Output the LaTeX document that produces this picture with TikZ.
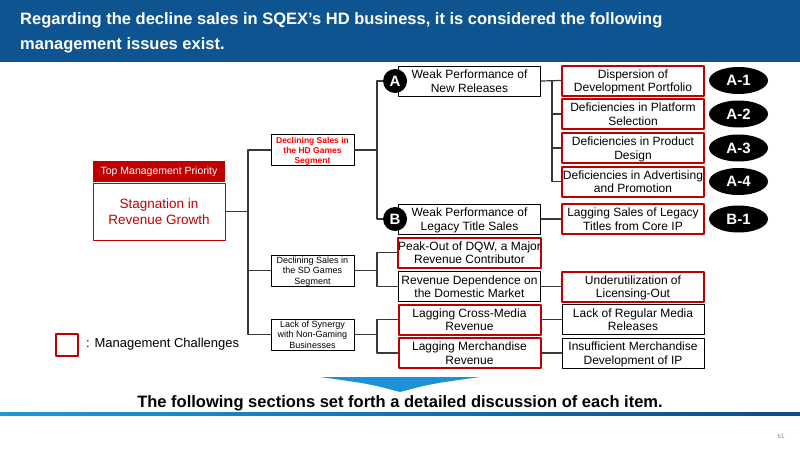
\documentclass[tikz,border=0pt]{standalone}
\usepackage{fontspec}
\setmainfont{Liberation Sans}
\usetikzlibrary{shapes.geometric}
\definecolor{bandblue}{HTML}{0E5490}
\definecolor{darkred}{HTML}{C00000}
\definecolor{hdred}{HTML}{FF0000}
\definecolor{arrowblue}{HTML}{1E90D8}
\definecolor{lineblue}{HTML}{1E9AD6}
\definecolor{linedark}{HTML}{0D4A8A}
\definecolor{conn}{HTML}{383838}
\begin{document}
\begin{tikzpicture}[x=1pt,y=-1pt,line cap=round,line join=round,
  box/.style={draw=black,line width=0.9pt,minimum width=142,minimum height=30,inner sep=0pt,text height=23.5pt,text depth=1.5pt,align=center,font=\fontsize{12}{13.5}\selectfont},
  redbox/.style={box,draw=darkred,line width=2pt},
  small/.style={draw=black,line width=0.9pt,minimum width=83,minimum height=31,inner sep=0pt,text height=28.5pt,text depth=1pt,align=center,font=\fontsize{9}{10.3}\selectfont},
  circ/.style={circle,fill=black,text=white,minimum size=24,inner sep=0pt,font=\fontsize{15}{15}\selectfont\bfseries},
  tag/.style={ellipse,fill=black,text=white,minimum width=59,minimum height=27,inner sep=0pt,font=\fontsize{15}{15}\selectfont\bfseries},
  link/.style={draw=conn,line width=1.2pt}]
  \useasboundingbox (0,0) rectangle (800,450);
  % header band
  \fill[bandblue] (0,0) rectangle (800,62);
  \node[anchor=north west,align=left,inner sep=0pt,text=white,font=\bfseries\fontsize{16.5}{25}\selectfont] (title) at (20,12.5)
    {Regarding the decline sales in SQEX's HD business, it is considered the following\\management issues exist.};
  % top priority
  \node[draw=darkred,line width=0.9pt,minimum width=132,minimum height=57,inner sep=0pt,align=center,text=darkred,font=\fontsize{13.5}{16}\selectfont] (top) at (159,211.5) {Stagnation in\\Revenue Growth};
  \node[anchor=south,fill=darkred,minimum width=132,minimum height=21,inner sep=0pt,text=white,font=\fontsize{10.5}{12}\selectfont] (toph) at (top.north) {Top Management Priority};
  % segments
  \node[small,text=hdred,font=\fontsize{8.5}{10.3}\selectfont\bfseries] (hd) at (312.5,150) {Declining Sales in\\the HD Games\\Segment};
  \node[small] (sd) at (312.5,270.5) {Declining Sales in\\the SD Games\\Segment};
  \node[small] (syn) at (312.5,334.5) {Lack of Synergy\\with Non-Gaming\\Businesses};
  % issues
  \node[box] (newrel) at (469.5,81) {Weak Performance of\\New Releases};
  \node[box] (legacy) at (469.5,219) {Weak Performance of\\Legacy Title Sales};
  \node[redbox] (peak) at (469.5,252.5) {Peak-Out of DQW, a Major\\Revenue Contributor};
  \node[box] (domestic) at (469.5,286.5) {Revenue Dependence on\\the Domestic Market};
  \node[redbox] (cross) at (469.5,319.5) {Lagging Cross-Media\\Revenue};
  \node[redbox] (merch) at (469.5,353) {Lagging Merchandise\\Revenue};
  % causes
  \node[redbox] (a1) at (633,80.5) {Dispersion of\\Development Portfolio};
  \node[redbox] (a2) at (633,114) {Deficiencies in Platform\\Selection};
  \node[redbox] (a3) at (633,148) {Deficiencies in Product\\Design};
  \node[redbox] (a4) at (633,181.5) {Deficiencies in Advertising\\and Promotion};
  \node[redbox] (b1) at (633,219) {Lagging Sales of Legacy\\Titles from Core IP};
  \node[redbox] (licence) at (633,286.5) {Underutilization of\\Licensing-Out};
  \node[box] (media) at (633,319.5) {Lack of Regular Media\\Releases};
  \node[box] (merchdev) at (633,353) {Insufficient Merchandise\\Development of IP};
  % junctions
  \coordinate (trunk) at (248,0);
  \coordinate (mid) at (377,0);
  \coordinate (fork) at (552,0);
  \draw[link] (top.east) -- (top.east -| trunk);
  \draw[link] (hd.west) -- (hd.west -| trunk) |- (syn.west);
  \draw[link] (sd.west) -- (sd.west -| trunk);
  \draw[link] (hd.east) -- (hd.east -| mid);
  \draw[link] (newrel.west) -- (newrel.west -| mid) |- (legacy.west);
  \draw[link] (sd.east) -- (sd.east -| mid);
  \draw[link] (peak.west) -- (peak.west -| mid) |- (domestic.west);
  \draw[link] (syn.east) -- (syn.east -| mid);
  \draw[link] (cross.west) -- (cross.west -| mid) |- (merch.west);
  \draw[link] (newrel.east) -- (a1.west);
  \draw[link] (a1.west -| fork) |- (a4.west);
  \foreach \n in {a2,a3}
    \draw[link] (\n.west -| fork) -- (\n.west);
  \draw[link] (legacy.east) -- (b1.west);
  \draw[link] (domestic.east) -- (licence.west);
  \draw[link] (cross.east) -- (media.west);
  \draw[link] (merch.east) -- (merchdev.west);
  % letters and tags
  \node[circ] (ca) at ([xshift=-3pt]newrel.west) {A};
  \node[circ] (cb) at ([xshift=-3pt]legacy.west) {B};
  \node[tag] (ta1) at (738.5,80.5) {A-1};
  \node[tag] (ta2) at (738.5,114) {A-2};
  \node[tag] (ta3) at (738.5,148) {A-3};
  \node[tag] (ta4) at (738.5,181.5) {A-4};
  \node[tag] (tb1) at (738.5,219) {B-1};
  % legend
  \node[draw=darkred,line width=2pt,minimum size=22,inner sep=0pt] (leg) at (67,344.5) {};
  \node[anchor=west,inner sep=0pt,font=\fontsize{13}{15}\selectfont] (legtext) at (86,344.5) {: Management Challenges};
  % conclusion
  \fill[arrowblue] (320,377) -- (480,377) .. controls (430,384) .. (400,392) .. controls (370,384) .. cycle;
  \node[inner sep=0pt,font=\bfseries\fontsize{16.5}{18}\selectfont] (concl) at (400,403) {The following sections set forth a detailed discussion of each item.};
  \shade[left color=lineblue,right color=linedark] (0,412) rectangle (800,415);
  \node[text=gray,font=\fontsize{6}{7}\selectfont] (page) at (781,436) {51};
\end{tikzpicture}
\end{document}
